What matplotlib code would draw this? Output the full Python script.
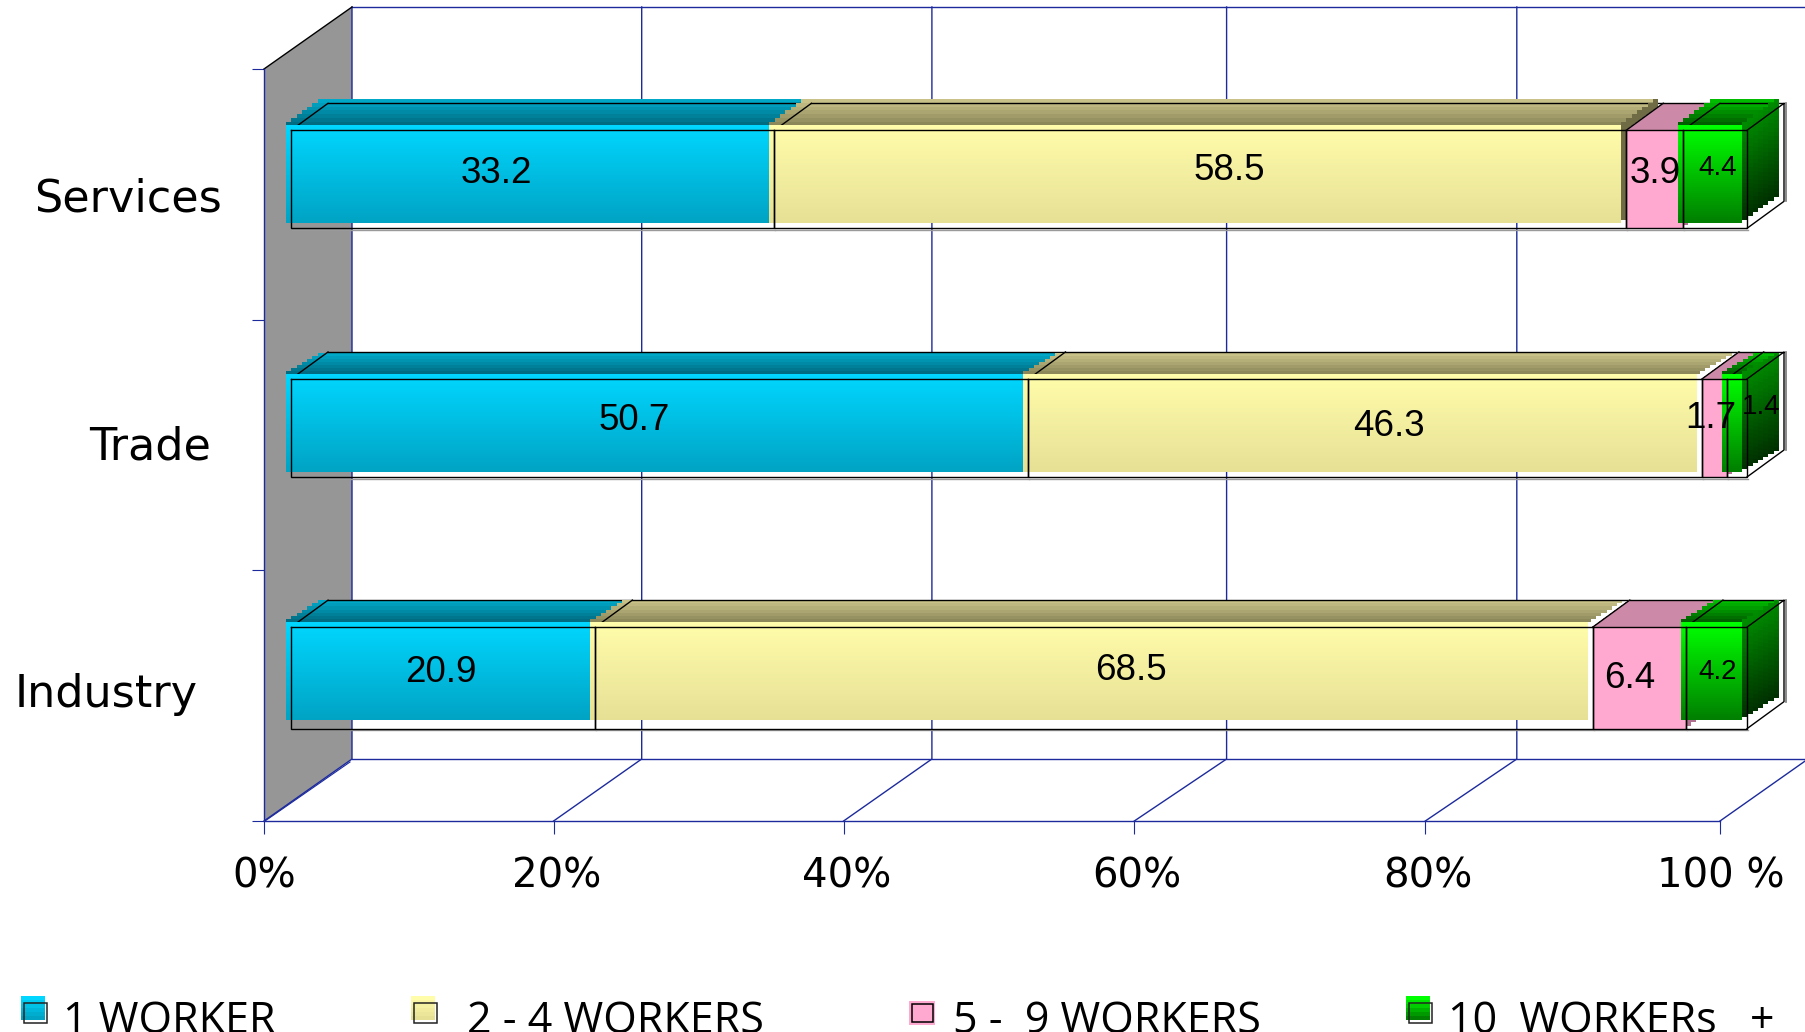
import numpy as np
import matplotlib
matplotlib.use("Agg")
import matplotlib.pyplot as plt
from matplotlib.collections import PolyCollection
from matplotlib.colors import to_rgb

categories = ["Industry", "Trade", "Services"]
series_names = ["1 WORKER", "2 - 4 WORKERS", "5 -  9 WORKERS", "10  WORKERs   +"]
one_worker = [20.9, 50.7, 33.2]
two_to_four = [68.5, 46.3, 58.5]
five_to_nine = [6.4, 1.7, 3.9]
ten_plus = [4.2, 1.4, 4.4]
x_ticks = [0, 20, 40, 60, 80, 100]
x_labels = ["0%", "20%", "40%", "60%", "80%", "100 %"]

NAVY = "#1c2a9c"
W, H = 1805, 1032
X0, X100, YB, YT = 264, 1720, 821, 69
PXX = (X100 - X0) / 100
PXY = (YB - YT) / 3
FRONT_NUDGE = [0, -1.6, -2.8, -3.3, -3.5, 0]
BACK_NUDGE = [0, -1.5, -2.5, 1, 0, 0]

fig = plt.figure(figsize=(W / 100, H / 100), dpi=100, facecolor="white")
ax = fig.add_axes([X0 / W, 1 - YB / H, (X100 - X0) / W, (YB - YT) / H])
ax.set_xlim(0, 100)
ax.set_ylim(-0.5, 2.5)
ax.patch.set_visible(False)


def P(pct, cat, dx=0, dy=0):
    """data position displaced by a number of pixels (projection of the 3-D look)."""
    return (pct + dx / PXX, cat - dy / PXY)


def quads(items, z):
    verts = [v for v, _ in items]
    cols = [c for _, c in items]
    pc = PolyCollection(verts, facecolors=cols, edgecolors="none", antialiaseds=False,
                        zorder=z, clip_on=False)
    ax.add_collection(pc)


def mix(a, b, t):
    a, b = np.array(to_rgb(a)), np.array(to_rgb(b))
    return tuple(a + (b - a) * t)


# ---- back wall, floor, grid
WALL_DX, WALL_DY = 88, -62
ax.fill([P(0, -.5)[0], P(0, -.5, WALL_DX)[0], P(0, 2.5, WALL_DX)[0], P(0, 2.5)[0]],
        [-.5, P(0, -.5, 0, WALL_DY)[1], P(0, 2.5, 0, WALL_DY)[1], 2.5],
        color="#969696", zorder=1, clip_on=False, lw=0)
for t, fn, bn in zip(x_ticks, FRONT_NUDGE, BACK_NUDGE):
    xs = [P(t, -.5, fn)[0], P(t, -.5, WALL_DX + bn)[0], P(t, 2.5, WALL_DX + bn)[0]]
    ys = [-.5, P(0, -.5, 0, WALL_DY)[1], P(0, 2.5, 0, WALL_DY)[1]]
    ax.plot(xs, ys, color=NAVY, lw=1.0, zorder=1.5, clip_on=False)
ax.plot([P(0, 0, 1, 0)[0], P(0, 0, WALL_DX - 2)[0]],
        [-.5, P(0, -.5, 0, WALL_DY + 3)[1]], color=NAVY, lw=0.8, zorder=1.5, clip_on=False)
for yy in (-.5, 2.5):
    ax.plot([P(0, 0, WALL_DX)[0], P(100, 0, WALL_DX)[0]],
            [P(0, yy, 0, WALL_DY)[1]] * 2, color=NAVY, lw=1.0, zorder=1.5, clip_on=False)
ax.plot([0, P(0, 2.5, WALL_DX)[0]], [2.5, P(0, 2.5, 0, WALL_DY)[1]], color="black", lw=1.0,
        zorder=1.6, clip_on=False)

# ---- axes
for s in ("top", "right"):
    ax.spines[s].set_visible(False)
for s in ("left", "bottom"):
    ax.spines[s].set_color(NAVY)
    ax.spines[s].set_linewidth(1.0)
    ax.spines[s].set_zorder(1.7)
ax.set_xticks([t + n / PXX for t, n in zip(x_ticks, FRONT_NUDGE)])
ax.set_xticklabels([])
ax.set_yticks([-.5, .5, 1.5, 2.5])
ax.set_yticklabels([])
ax.tick_params(axis="both", direction="out", length=9, width=0.8, color=NAVY)
label_nudge = [0, 3, 3, 3, 3, 1]
for t, l, fn, ln in zip(x_ticks, x_labels, FRONT_NUDGE, label_nudge):
    ax.text(t + (fn + ln) / PXX, -.5 - 56 / PXY, l, ha="center", va="center", family="DejaVu Sans",
            fontsize=29, color="black")

# category names
cat_x = [15, 89, 34]
cat_y = [695, 447, 199]
for c, xp, yp in zip(categories, cat_x, cat_y):
    ax.text((xp - X0) / PXX, -.5 + (YB - yp) / PXY, c, ha="left", va="center",
            family="DejaVu Sans", fontsize=32, color="black")

# ---- bars
BAR_DX = 27
BAR_TOP = [-68.5, -66, -64]
BAR_BOTTOM = [33, 32, 34]
FILL_DEPTH = [-22, -21, -26]
DEPTH_X, DEPTH_Y = 37, -27
FILL_DX, FILL_DY = -5, -5
FILL_H = 98
series = np.array([one_worker, two_to_four, five_to_nine, ten_plus])
totals = series.sum(axis=0)
front_cols = [("#00d6ff", "#00a3c3"), ("#fffcaa", "#e6e095"), ("#ffa9d0", "#ffa9d0"), ("#00ff00", "#007f00")]
top_cols = [("#00a8c8", "#006c82"), ("#c8c288", "#8c885a"), None, ("#00bb00", "#006000")]
side_cols = [None, ("#6e6b45", "#6e6b45"), ("#b0708f", "#b0708f"), ("#008a00", "#003000")]
STEPS = 7


def draw_bar(cat, i, left, right):
    top, bot = BAR_TOP[cat], BAR_BOTTOM[cat]
    z = 3 + i * 0.5
    solid = i == 2
    fx, fy = (0, 0) if solid else (FILL_DX, FILL_DY)
    h = (bot - top) if solid else FILL_H
    ft = top + fy
    depth = FILL_DEPTH[cat]
    # top face
    if solid:
        v = [P(left, cat, BAR_DX, top), P(right, cat, BAR_DX, top),
             P(right, cat, BAR_DX + DEPTH_X, top + DEPTH_Y), P(left, cat, BAR_DX + DEPTH_X, top + DEPTH_Y)]
        quads([(v, "#cc8aa8")], z)
    else:
        items = []
        for k in range(STEPS):
            sx0 = DEPTH_X * k / STEPS
            sy0 = depth * k / STEPS
            sy1 = depth * (k + 1) / STEPS
            v = [P(left, cat, BAR_DX + fx + sx0, ft + sy0), P(right, cat, BAR_DX + fx + sx0 + 3, ft + sy0),
                 P(right, cat, BAR_DX + fx + sx0 + 3, ft + sy1), P(left, cat, BAR_DX + fx + sx0, ft + sy1)]
            items.append((v, mix(top_cols[i][1], top_cols[i][0], k / (STEPS - 1))))
        quads(items, z)
    # top edges, the near part covered by the front fill
    ax.plot(*zip(P(left, cat, BAR_DX, top), P(left, cat, BAR_DX + DEPTH_X, top + DEPTH_Y)),
            color="black", lw=1.0, zorder=z + .05, clip_on=False)
    ax.plot(*zip(P(left, cat, BAR_DX + DEPTH_X, top + DEPTH_Y), P(right, cat, BAR_DX + DEPTH_X, top + DEPTH_Y)),
            color="black", lw=1.0, zorder=z + .05, clip_on=False)
    # right face
    has_side = i == 3 or i == 2 or (i == 1 and cat == 2)
    if has_side:
        items = []
        for k in range(STEPS):
            x0 = DEPTH_X * k / STEPS
            x1 = DEPTH_X * (k + 1) / STEPS
            sy = depth * (k + 1) / STEPS
            rows = 24 if i == 3 else 1
            for r in range(rows):
                a = ft + sy + h * r / rows
                b = ft + sy + h * (r + 1) / rows
                v = [P(right, cat, BAR_DX + fx + x0, a), P(right, cat, BAR_DX + fx + x1, a),
                     P(right, cat, BAR_DX + fx + x1, b), P(right, cat, BAR_DX + fx + x0, b)]
                items.append((v, mix(side_cols[i][0], side_cols[i][1], r / max(rows - 1, 1))))
        quads(items, z + .1)
    # front face
    rows = 1 if solid else 49
    items = []
    for r in range(rows):
        a = ft + h * r / rows
        b = ft + h * (r + 1) / rows
        v = [P(left, cat, BAR_DX + fx, a), P(right, cat, BAR_DX + fx, a),
             P(right, cat, BAR_DX + fx, b), P(left, cat, BAR_DX + fx, b)]
        items.append((v, mix(front_cols[i][0], front_cols[i][1], r / max(rows - 1, 1))))
    quads(items, z + .2)
    # front outline
    corners = [P(left, cat, BAR_DX, top), P(right, cat, BAR_DX, top),
               P(right, cat, BAR_DX, bot), P(left, cat, BAR_DX, bot), P(left, cat, BAR_DX, top)]
    ax.plot(*zip(*corners), color="black", lw=1.0, zorder=8, clip_on=False, solid_joinstyle="miter")
    shadow = [P(left, cat, BAR_DX + 1, bot + 1.5), P(right, cat, BAR_DX + 1, bot + 1.5)]
    ax.plot(*zip(*shadow), color="#9a9a9a", lw=1.0, zorder=7.9, clip_on=False)


for cat in range(len(categories)):
    edges = np.concatenate([[0], np.cumsum(series[:, cat])]) / totals[cat] * 100
    for i in range(4):
        draw_bar(cat, i, edges[i], edges[i + 1])
    top, bot = BAR_TOP[cat], BAR_BOTTOM[cat]
    cage = [P(100, cat, BAR_DX, top), P(100, cat, BAR_DX + DEPTH_X, top + DEPTH_Y),
            P(100, cat, BAR_DX + DEPTH_X, bot + DEPTH_Y), P(100, cat, BAR_DX, bot)]
    ax.plot(*zip(*cage), color="black", lw=1.0, zorder=8, clip_on=False)
    ax.plot(*zip(P(100, cat, BAR_DX + DEPTH_X + 1.5, top + DEPTH_Y), P(100, cat, BAR_DX + DEPTH_X + 1.5, bot + DEPTH_Y)),
            color="#777777", lw=1.2, zorder=7.9, clip_on=False)

# ---- value labels
label_x = [[441, 1131, 1630, 1718], [634, 1389, 1711, 1761], [496, 1229, 1655, 1718]]
label_y = [[672, 670, 678, 672], [421, 426, 418, 407], [174, 170, 174, 168]]
for cat in range(3):
    for i in range(4):
        small = i == 3
        ax.text((label_x[cat][i] - X0) / PXX, -.5 + (YB - label_y[cat][i]) / PXY,
                f"{series[i, cat]:.1f}", ha="center", va="center", family="Liberation Sans",
                fontsize=20 if small else 26.5, color="black", zorder=9)

# ---- legend, cut by the lower edge as in the source
leg_sw_x = [21, 411, 909, 1406]
leg_tx_x = [63, 467, 953, 1448]
for i in range(4):
    sx = leg_sw_x[i]
    if i == 2:
        fig.patches.append(plt.Rectangle((sx / W, 1 - 1025 / H), 26 / W, 24 / H, transform=fig.transFigure,
                                         facecolor=front_cols[2][0], edgecolor="none"))
        fig.patches.append(plt.Rectangle(((sx + 3) / W, 1 - 1022 / H), 21 / W, 18 / H, transform=fig.transFigure,
                                         facecolor="none", edgecolor="black", lw=1.1))
    else:
        n = 6
        for r in range(n):
            fig.patches.append(plt.Rectangle((sx / W, 1 - (997 + 23 * (r + 1) / n) / H), 24 / W, 23 / n / H + .0005,
                                             transform=fig.transFigure, edgecolor="none",
                                             facecolor=mix(front_cols[i][0], front_cols[i][1], r / (n - 1))))
        fig.patches.append(plt.Rectangle(((sx + 3) / W, 1 - 1023 / H), 23 / W, 20 / H, transform=fig.transFigure,
                                         facecolor="none", edgecolor="#222222", lw=1.1))
    fig.text(leg_tx_x[i] / W, 1 - 1033 / H, series_names[i], ha="left", va="baseline",
             family="Open Sans", fontsize=31, color="black")

fig.savefig("out.png", dpi=100, facecolor="white")
